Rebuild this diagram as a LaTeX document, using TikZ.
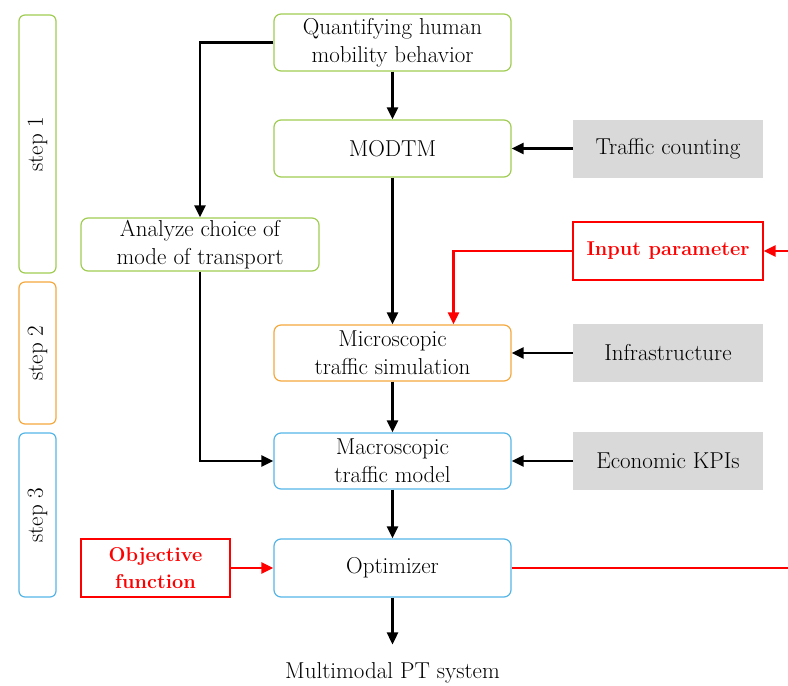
\documentclass[tikz,border=0pt]{standalone}
\usetikzlibrary{arrows.meta}
\definecolor{cgreen}{RGB}{160,204,82}
\definecolor{corange}{RGB}{245,168,62}
\definecolor{cblue}{RGB}{84,182,232}
\definecolor{cgray}{RGB}{217,217,217}
\definecolor{cred}{RGB}{255,0,0}
\begin{document}
\begin{tikzpicture}[x=1pt,y=-1pt,
  txt/.style={font=\fontsize{23}{28}\selectfont, text=black},
  box/.style={txt, draw, rounded corners=7pt, line width=1.2pt, minimum width=237pt, minimum height=57pt, align=center, inner sep=0pt},
  gbox/.style={txt, fill=cgray, minimum width=190pt, minimum height=58pt, align=center, inner sep=0pt},
  rbox/.style={font=\fontsize{20}{27}\selectfont\bfseries, text=cred, draw=cred, line width=1.2pt, minimum height=58pt, align=center, inner sep=0pt},
  stepbox/.style={txt, draw, rounded corners=6pt, line width=1.2pt, minimum width=37pt, rotate=90, inner sep=0pt},
  conn/.style={line width=2.4pt, -{Triangle[length=12pt,width=11pt]}},
  line/.style={line width=2.4pt},
]
\useasboundingbox (0,0) rectangle (788,686);

% step boxes
\node[stepbox, draw=cgreen, minimum width=258pt, minimum height=37pt] (s1) at (37.5,144) {step 1};
\node[stepbox, draw=corange, minimum width=142pt, minimum height=37pt] (s2) at (37.5,353) {step 2};
\node[stepbox, draw=cblue, minimum width=164pt, minimum height=37pt] (s3) at (37.5,515) {step 3};

% main boxes
\node[box, draw=cgreen] (q) at (392.5,42.5) {Quantifying human\\mobility behavior};
\node[box, draw=cgreen] (modtm) at (392.5,148.5) {MODTM};
\node[box, draw=cgreen, minimum width=238pt, minimum height=53pt] (an) at (200,244.5) {Analyze choice of\\mode of transport};
\node[box, draw=corange, minimum height=56pt] (mic) at (392.5,353) {Microscopic\\traffic simulation};
\node[box, draw=cblue, minimum height=56pt] (mac) at (392.5,461) {Macroscopic\\traffic model};
\node[box, draw=cblue, minimum height=58pt] (opt) at (392.5,568) {Optimizer};

% side boxes
\node[gbox] (tc) at (668,148.5) {Traffic counting};
\node[rbox, minimum width=190pt] (ip) at (668,251) {Input parameter};
\node[gbox] (inf) at (668,353) {Infrastructure};
\node[gbox] (eco) at (668,461) {Economic KPIs};
\node[rbox, minimum width=149pt] (obj) at (155.5,568) {Objective\\function};

\node[txt, inner sep=0pt] (out) at (392.5,673) {Multimodal PT system};

\coordinate (ipin) at (788,251);
\coordinate (optout) at (788,568);

% connectors
\draw[conn] (q.south) -- (modtm.north);
\draw[conn] (tc.west) -- (modtm.east);
\draw[conn] (modtm.south) -- (mic.north);
\draw[conn] (inf.west) -- (mic.east);
\draw[conn] (mic.south) -- (mac.north);
\draw[conn] (eco.west) -- (mac.east);
\draw[conn] (mac.south) -- (opt.north);
\draw[conn] (opt.south) -- ([yshift=18pt]out.north);
\draw[conn] (q.west) -| (an.north);
\draw[conn] (an.south) |- (mac.west);

\draw[conn, cred] (ipin) -- (ip.east);
\draw[conn, cred] (ip.west) -| ([xshift=61pt]mic.north);
\draw[conn, cred] (obj.east) -- (opt.west);
\draw[line, cred] (opt.east) -- (optout);
\end{tikzpicture}
\end{document}
